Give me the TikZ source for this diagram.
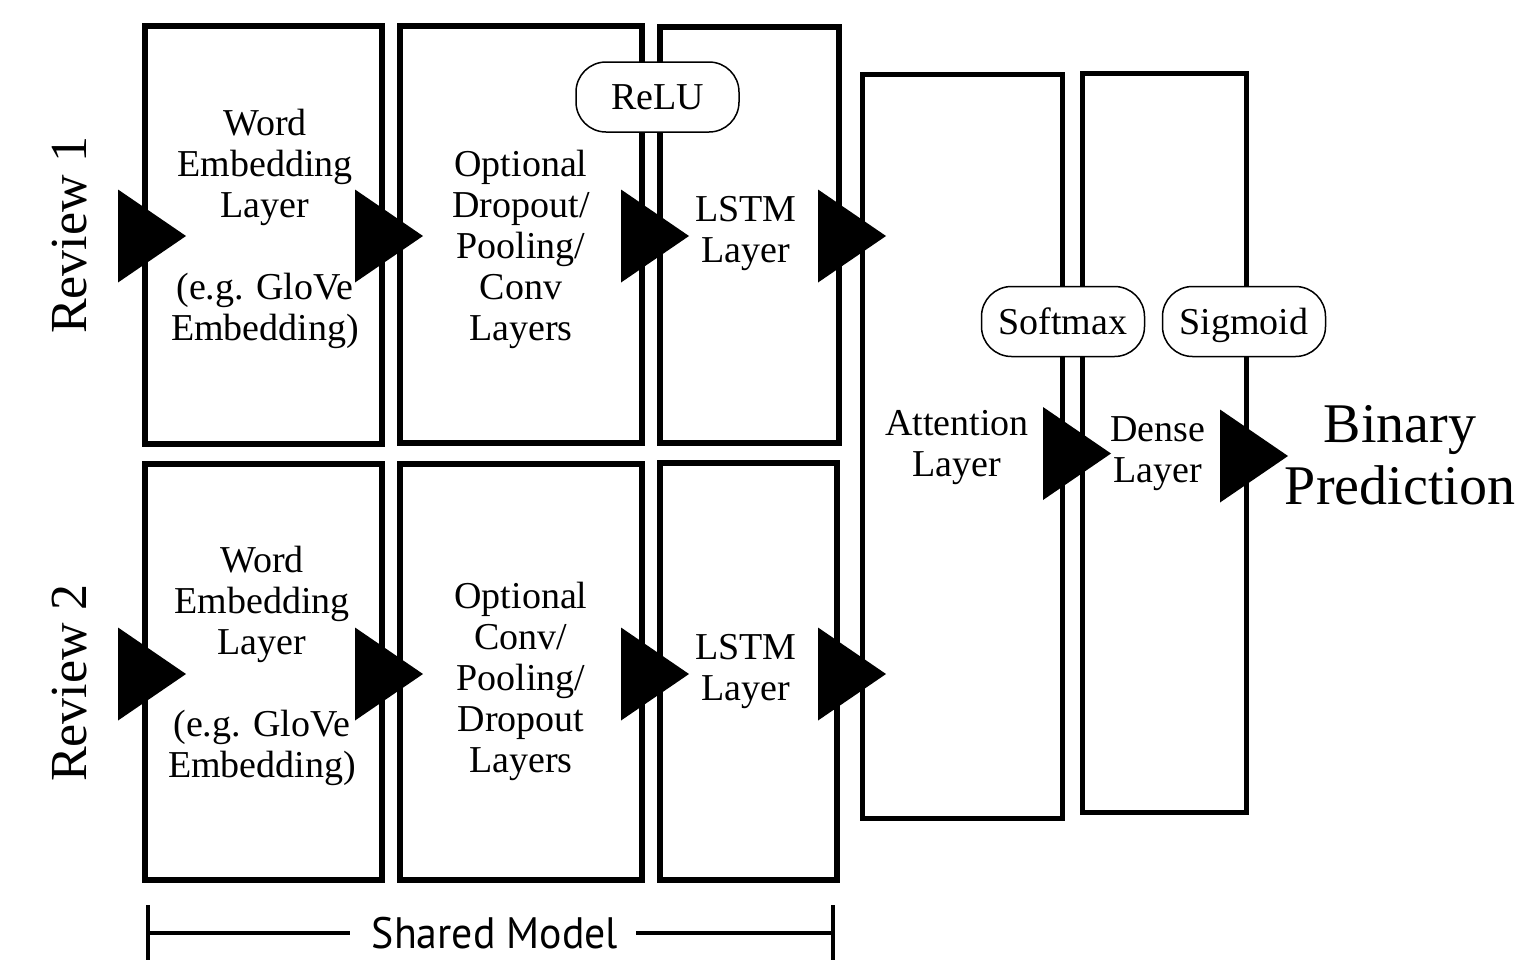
\documentclass[tikz,border=0pt]{standalone}
\usepackage{fontspec}
\setmainfont{Liberation Serif}
\newfontfamily\labelsans{PT Sans}
\begin{document}
\begin{tikzpicture}[x=1pt,y=-1pt,
  layer/.style={draw, line width=6pt, inner sep=0pt},
  widelayer/.style={draw, line width=5pt, inner sep=0pt},
  txt/.style={align=center, inner sep=0pt, font=\fontsize{38}{41}\selectfont},
  act/.style={draw, line width=1.5pt, fill=white, rounded corners=30pt,
    minimum width=163pt, minimum height=70pt, inner sep=0pt,
    text height=34pt, text depth=9pt,
    font=\fontsize{38}{41}\selectfont},
  review/.style={rotate=90, inner sep=0pt, font=\fontsize{52}{56}\selectfont},
  tri/.pic={\fill (-68,-46.5) -- (0,0) -- (-68,46.5) -- cycle;},
]
\useasboundingbox (0,0) rectangle (1530,959);

% --- layer boxes: top branch
\node[layer, minimum width=236.5pt, minimum height=418pt] (A1) at (263.25,234.5) {};
\node[layer, minimum width=242pt,   minimum height=417pt] (B1) at (520.5,234.8) {};
\node[layer, minimum width=178.7pt, minimum height=416.5pt] (C1) at (749.35,234.9) {};
% --- layer boxes: bottom branch
\node[layer, minimum width=236.5pt, minimum height=416pt] (A2) at (263.25,672) {};
\node[layer, minimum width=242pt,   minimum height=416pt] (B2) at (520.5,672) {};
\node[layer, minimum width=177pt,   minimum height=416.5pt] (C2) at (748.5,671.5) {};
% --- merged part
\node[widelayer, minimum width=200pt, minimum height=744.5pt] (ATT) at (962.5,446.25) {};
\node[widelayer, minimum width=163.5pt, minimum height=739pt] (DEN) at (1164.25,442.5) {};

% --- box captions
\node[txt] (A1t) at (265,229) {Word\\Embedding\\Layer\\[41pt](e.g. GloVe\\Embedding)};
\node[txt] (B1t) at (521,249) {Optional\\Dropout/\\Pooling/\\Conv\\Layers};
\node[txt] (C1t) at (746,234) {LSTM\\Layer};
\node[txt] (A2t) at (262,666) {Word\\Embedding\\Layer\\[41pt](e.g. GloVe\\Embedding)};
\node[txt] (B2t) at (521,681) {Optional\\Conv/\\Pooling/\\Dropout\\Layers};
\node[txt] (C2t) at (746,672) {LSTM\\Layer};
\node[txt] (ATTt) at (957,448) {Attention\\Layer};
\node[txt] (DENt) at (1158,454) {Dense\\Layer};
\node[txt, font=\fontsize{56}{62}\selectfont] (OUT) at (1400,455) {Binary\\Prediction};

% --- branch inputs
\node[review] (R1) at (70,235) {Review 1};
\node[review] (R2) at (70,683) {Review 2};

% --- activation tags
\node[act] (relu) at (657.5,97) {ReLU};
\node[act] (soft) at (1063,321.5) {Softmax};
\node[act] (sigm) at (1244,321.5) {Sigmoid};

% --- data flow markers
\coordinate (f11) at (186,236);  \coordinate (f12) at (423,236);
\coordinate (f13) at (689,236);  \coordinate (f14) at (886,236);
\coordinate (f21) at (186,674);  \coordinate (f22) at (423,674);
\coordinate (f23) at (689,674);  \coordinate (f24) at (886,674);
\coordinate (f5) at (1111,453.5); \coordinate (f6) at (1288,456);
\foreach \p in {f11,f12,f13,f14,f21,f22,f23,f24,f5,f6}
  \pic at (\p) {tri};

% --- shared model bracket
\node[inner sep=0pt, font=\labelsans\fontsize{44}{48}\selectfont] (SM) at (495,933)
  {\scalebox{0.95}[1]{Shared Model}};
\coordinate (SMl) at (148,933);
\coordinate (SMr) at (833,933);
\draw[line width=4.5pt] (SMl) -- ([xshift=-22pt]SM.west);
\draw[line width=4.5pt] ([xshift=18pt]SM.east) -- (SMr);
\draw[line width=4.5pt] ([yshift=-28pt]SMl) -- ([yshift=28pt]SMl);
\draw[line width=4.5pt] ([yshift=-28pt]SMr) -- ([yshift=28pt]SMr);
\end{tikzpicture}
\end{document}
